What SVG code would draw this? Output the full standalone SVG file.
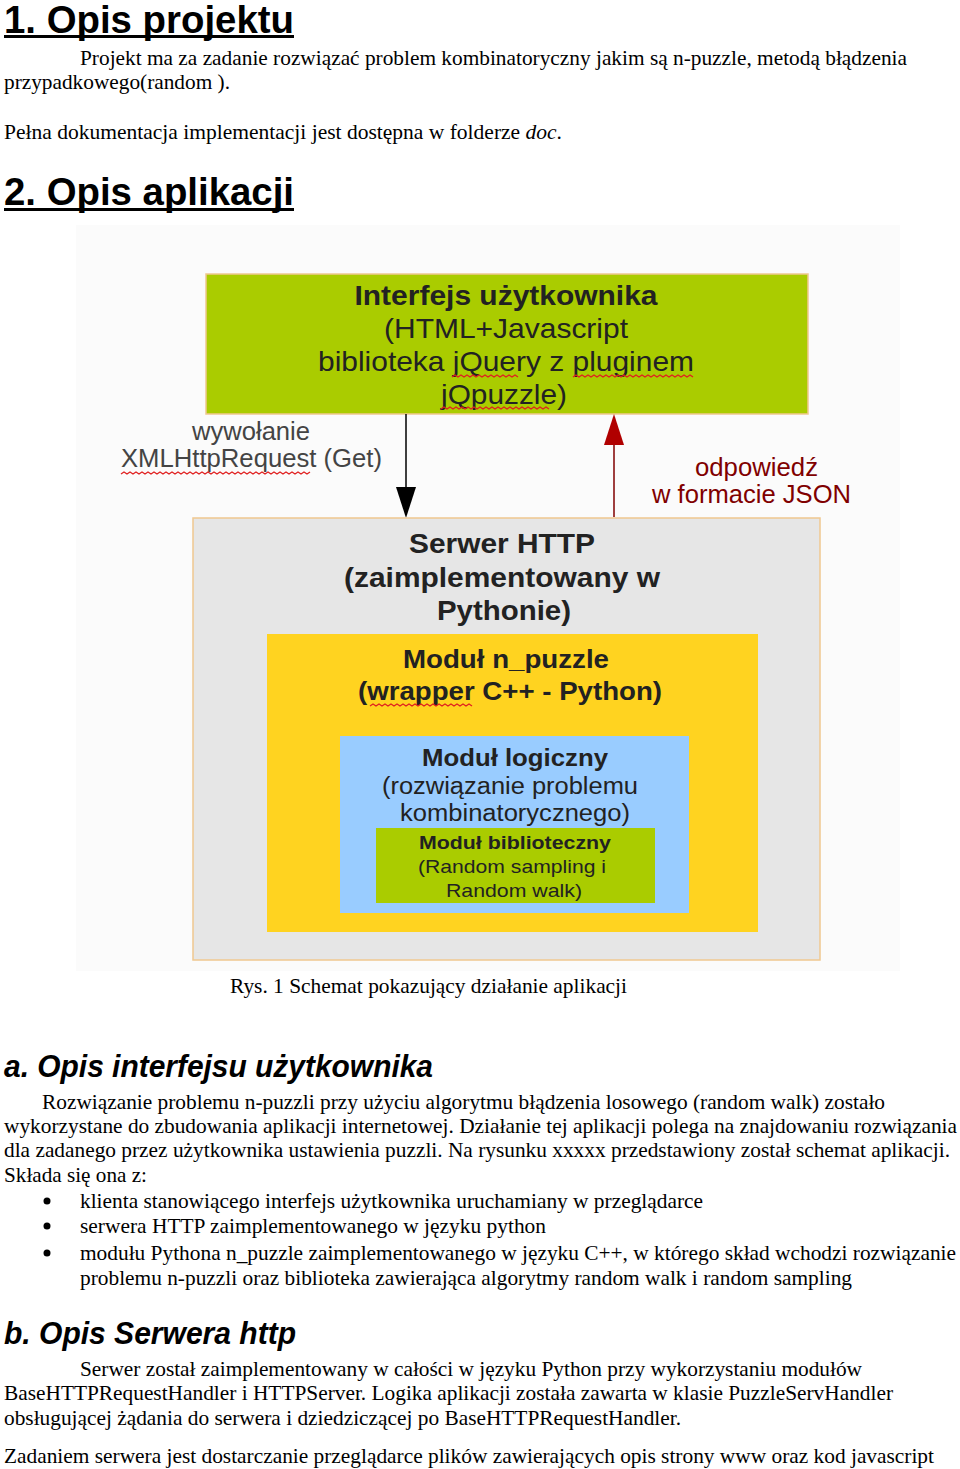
<svg xmlns="http://www.w3.org/2000/svg" width="960" height="1469" viewBox="0 0 960 1469">
<style>
.h1{font-family:"Liberation Sans",Arial,sans-serif;font-weight:bold;font-size:38px;fill:#000}
.h2{font-family:"Liberation Sans",Arial,sans-serif;font-weight:bold;font-style:italic;font-size:32px;fill:#000}
.p{font-family:"Liberation Serif","Times New Roman",serif;font-size:21px;fill:#000}
.d{font-family:"Liberation Sans",Arial,sans-serif;font-size:28px;fill:#222;text-anchor:middle}
.d25{font-size:25px}
.d22{font-size:23px}
.d17{font-size:19px}
.db{font-weight:bold}
.lbl{font-family:"Liberation Sans",Arial,sans-serif;font-size:25px;fill:#444}
.red{fill:#800000}
.box{stroke:#f0c890;stroke-width:1.5}
.sq{fill:none;stroke:#e02020;stroke-width:1.3}
</style>
<rect width="960" height="1469" fill="#fff"/>

<g id="text-top">
<text class="h1" x="4" y="33" textLength="290" lengthAdjust="spacingAndGlyphs">1. Opis projektu</text>
<rect x="4" y="35" width="290" height="3" fill="#000"/>
<text class="p" x="80" y="65" textLength="827" lengthAdjust="spacingAndGlyphs">Projekt ma za zadanie rozwiązać problem kombinatoryczny jakim są n-puzzle, metodą błądzenia</text>
<text class="p" x="4" y="89" textLength="226" lengthAdjust="spacingAndGlyphs">przypadkowego(random ).</text>
<text class="p" x="4" y="139" textLength="558" lengthAdjust="spacingAndGlyphs">Pełna dokumentacja implementacji  jest dostępna w folderze <tspan font-style="italic">doc</tspan>.</text>
<text class="h1" x="4" y="205" textLength="290" lengthAdjust="spacingAndGlyphs">2. Opis aplikacji</text>
<rect x="4" y="208" width="290" height="3" fill="#000"/>
</g>

<rect x="76" y="225" width="824" height="746" fill="#fbfbfb"/>

<g id="ui">
<rect class="box" x="206" y="274" width="602" height="140" fill="#aacc00"/>
<text class="d db" x="506" y="305" textLength="303" lengthAdjust="spacingAndGlyphs">Interfejs użytkownika</text>
<text class="d" x="506" y="338" textLength="244" lengthAdjust="spacingAndGlyphs">(HTML+Javascript</text>
<text class="d" x="506" y="371" textLength="376" lengthAdjust="spacingAndGlyphs">biblioteka jQuery z pluginem</text>
<text class="d" x="504" y="404" textLength="126" lengthAdjust="spacingAndGlyphs">jQpuzzle)</text>
<path class="sq" d="M452,377 l3,-2 l3,2 l3,-2 l3,2 l3,-2 l3,2 l3,-2 l3,2 l3,-2 l3,2 l3,-2 l3,2 l3,-2 l3,2 l3,-2 l3,2 l3,-2 l3,2 l3,-2 l3,2 l3,-2 l3,2"/>
<path class="sq" d="M573,377 l3,-2 l3,2 l3,-2 l3,2 l3,-2 l3,2 l3,-2 l3,2 l3,-2 l3,2 l3,-2 l3,2 l3,-2 l3,2 l3,-2 l3,2 l3,-2 l3,2 l3,-2 l3,2 l3,-2 l3,2 l3,-2 l3,2 l3,-2 l3,2 l3,-2 l3,2 l3,-2 l3,2 l3,-2 l3,2 l3,-2 l3,2 l3,-2 l3,2 l3,-2 l3,2 l3,-2 l3,2"/>
<path class="sq" d="M441,409 l3,-2 l3,2 l3,-2 l3,2 l3,-2 l3,2 l3,-2 l3,2 l3,-2 l3,2 l3,-2 l3,2 l3,-2 l3,2 l3,-2 l3,2 l3,-2 l3,2 l3,-2 l3,2 l3,-2 l3,2 l3,-2 l3,2 l3,-2 l3,2 l3,-2 l3,2 l3,-2 l3,2 l3,-2 l3,2 l3,-2 l3,2 l3,-2 l3,2"/>
</g>

<g id="connectors">
<line x1="406" y1="414" x2="406" y2="490" stroke="#000" stroke-width="1.5"/>
<path d="M396,487 L416,487 L406,518 Z" fill="#000"/>
<line x1="614" y1="517" x2="614" y2="445" stroke="#800000" stroke-width="1.5"/>
<path d="M604,445 L624,445 L614,414 Z" fill="#b00000"/>
<text class="lbl" x="192" y="440" textLength="118" lengthAdjust="spacingAndGlyphs">wywołanie</text>
<text class="lbl" x="121" y="467" textLength="261" lengthAdjust="spacingAndGlyphs">XMLHttpRequest (Get)</text>
<path class="sq" d="M121,474 l3,-2 l3,2 l3,-2 l3,2 l3,-2 l3,2 l3,-2 l3,2 l3,-2 l3,2 l3,-2 l3,2 l3,-2 l3,2 l3,-2 l3,2 l3,-2 l3,2 l3,-2 l3,2 l3,-2 l3,2 l3,-2 l3,2 l3,-2 l3,2 l3,-2 l3,2 l3,-2 l3,2 l3,-2 l3,2 l3,-2 l3,2 l3,-2 l3,2 l3,-2 l3,2 l3,-2 l3,2 l3,-2 l3,2 l3,-2 l3,2 l3,-2 l3,2 l3,-2 l3,2 l3,-2 l3,2 l3,-2 l3,2 l3,-2 l3,2 l3,-2 l3,2 l3,-2 l3,2 l3,-2 l3,2 l3,-2 l3,2 l3,-2"/>
<text class="lbl red" x="695" y="476" textLength="123" lengthAdjust="spacingAndGlyphs">odpowiedź</text>
<text class="lbl red" x="652" y="503" textLength="199" lengthAdjust="spacingAndGlyphs">w formacie JSON</text>
</g>

<g id="server">
<rect class="box" x="193" y="518" width="627" height="442" fill="#e6e6e6"/>
<text class="d db" x="502" y="553" textLength="186" lengthAdjust="spacingAndGlyphs">Serwer HTTP</text>
<text class="d db" x="502" y="587" textLength="316" lengthAdjust="spacingAndGlyphs">(zaimplementowany w</text>
<text class="d db" x="504" y="620" textLength="134" lengthAdjust="spacingAndGlyphs">Pythonie)</text>
</g>

<g id="npuzzle">
<rect x="267" y="634" width="491" height="298" fill="#ffd320"/>
<text class="d d25 db" x="506" y="668" textLength="206" lengthAdjust="spacingAndGlyphs">Moduł n_puzzle</text>
<text class="d d25 db" x="510" y="700" textLength="304" lengthAdjust="spacingAndGlyphs">(wrapper C++ - Python)</text>
<path class="sq" d="M370,706 l3,-2 l3,2 l3,-2 l3,2 l3,-2 l3,2 l3,-2 l3,2 l3,-2 l3,2 l3,-2 l3,2 l3,-2 l3,2 l3,-2 l3,2 l3,-2 l3,2 l3,-2 l3,2 l3,-2 l3,2 l3,-2 l3,2 l3,-2 l3,2 l3,-2 l3,2 l3,-2 l3,2 l3,-2 l3,2 l3,-2 l3,2"/>
</g>

<g id="logic">
<rect x="340" y="736" width="349" height="177" fill="#99ccff"/>
<text class="d d22 db" x="515" y="766" textLength="186" lengthAdjust="spacingAndGlyphs">Moduł logiczny</text>
<text class="d d22" x="510" y="794" textLength="256" lengthAdjust="spacingAndGlyphs">(rozwiązanie problemu</text>
<text class="d d22" x="515" y="821" textLength="230" lengthAdjust="spacingAndGlyphs">kombinatorycznego)</text>
</g>

<g id="lib">
<rect x="376" y="828" width="279" height="75" fill="#aacc00"/>
<text class="d d17 db" x="515" y="849" textLength="192" lengthAdjust="spacingAndGlyphs">Moduł biblioteczny</text>
<text class="d d17" x="512" y="873" textLength="188" lengthAdjust="spacingAndGlyphs">(Random sampling i</text>
<text class="d d17" x="514" y="897" textLength="136" lengthAdjust="spacingAndGlyphs">Random walk)</text>
</g>

<g id="text-bottom">
<text class="p" x="230" y="993" textLength="397" lengthAdjust="spacingAndGlyphs">Rys. 1 Schemat pokazujący działanie aplikacji</text>
<text class="h2" x="4" y="1077" textLength="429" lengthAdjust="spacingAndGlyphs">a. Opis interfejsu użytkownika</text>
<text class="p" x="42" y="1109" textLength="843" lengthAdjust="spacingAndGlyphs">Rozwiązanie problemu n-puzzli przy użyciu algorytmu błądzenia losowego (random walk) zostało</text>
<text class="p" x="4" y="1133" textLength="953" lengthAdjust="spacingAndGlyphs">wykorzystane do zbudowania aplikacji internetowej. Działanie tej aplikacji polega na znajdowaniu rozwiązania</text>
<text class="p" x="4" y="1157" textLength="946" lengthAdjust="spacingAndGlyphs">dla zadanego przez użytkownika ustawienia puzzli. Na rysunku xxxxx przedstawiony został schemat aplikacji.</text>
<text class="p" x="4" y="1182" textLength="143" lengthAdjust="spacingAndGlyphs">Składa się ona z:</text>
<circle cx="47" cy="1201" r="3.5" fill="#000"/>
<circle cx="47" cy="1226" r="3.5" fill="#000"/>
<circle cx="47" cy="1253" r="3.5" fill="#000"/>
<text class="p" x="80" y="1208" textLength="623" lengthAdjust="spacingAndGlyphs">klienta stanowiącego interfejs użytkownika uruchamiany w przeglądarce</text>
<text class="p" x="80" y="1233" textLength="466" lengthAdjust="spacingAndGlyphs">serwera HTTP zaimplementowanego w języku python</text>
<text class="p" x="80" y="1260" textLength="876" lengthAdjust="spacingAndGlyphs">modułu Pythona n_puzzle zaimplementowanego w języku C++, w którego skład wchodzi rozwiązanie</text>
<text class="p" x="80" y="1285" textLength="772" lengthAdjust="spacingAndGlyphs">problemu n-puzzli oraz biblioteka zawierająca algorytmy random walk i random sampling</text>
<text class="h2" x="4" y="1344" textLength="292" lengthAdjust="spacingAndGlyphs">b. Opis Serwera http</text>
<text class="p" x="80" y="1376" textLength="782" lengthAdjust="spacingAndGlyphs">Serwer został zaimplementowany w całości w języku Python przy wykorzystaniu modułów</text>
<text class="p" x="4" y="1400" textLength="889" lengthAdjust="spacingAndGlyphs">BaseHTTPRequestHandler i HTTPServer. Logika aplikacji została zawarta w klasie PuzzleServHandler</text>
<text class="p" x="4" y="1425" textLength="677" lengthAdjust="spacingAndGlyphs">obsługującej żądania do serwera i dziedziczącej po BaseHTTPRequestHandler.</text>
<text class="p" x="4" y="1463" textLength="930" lengthAdjust="spacingAndGlyphs">Zadaniem serwera jest dostarczanie przeglądarce plików zawierających opis strony www oraz kod javascript</text>
</g>
</svg>
